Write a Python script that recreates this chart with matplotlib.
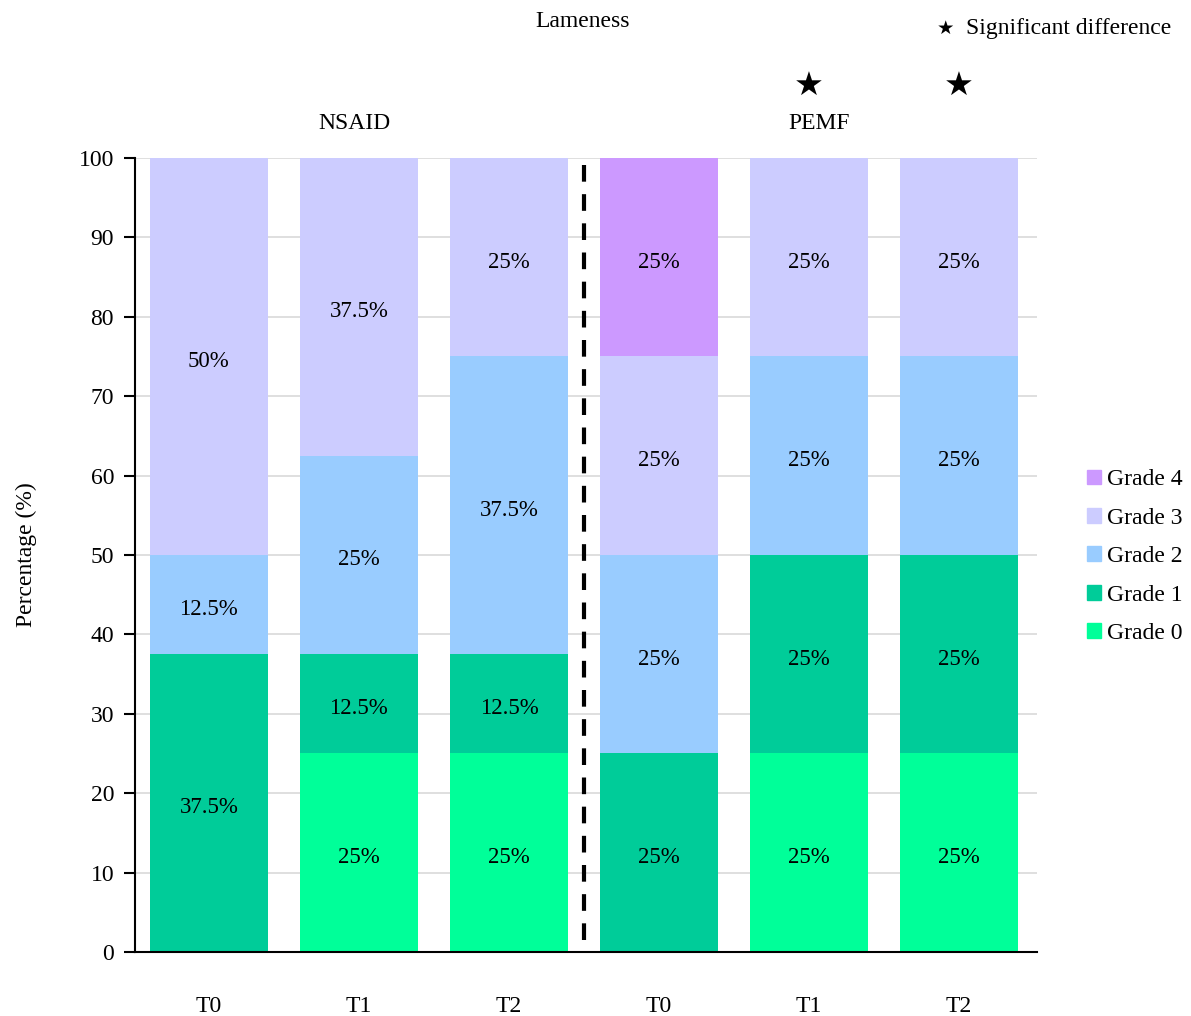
import numpy as np
import matplotlib.pyplot as plt
from matplotlib.patches import Patch

plt.rcParams['font.family'] = ['Liberation Serif', 'DejaVu Serif']

times = ['T0', 'T1', 'T2', 'T0', 'T1', 'T2']
groups = ['NSAID', 'PEMF']
grades = ['Grade 0', 'Grade 1', 'Grade 2', 'Grade 3', 'Grade 4']
colors = ['#00FF99', '#00CC99', '#99CCFF', '#CCCCFF', '#CC99FF']

# percentage per grade, one value per bar (NSAID T0-T2, PEMF T0-T2)
grade0 = [0, 25, 25, 0, 25, 25]
grade1 = [37.5, 12.5, 12.5, 25, 25, 25]
grade2 = [12.5, 25, 37.5, 25, 25, 25]
grade3 = [50, 37.5, 25, 25, 25, 25]
grade4 = [0, 0, 0, 25, 0, 0]
significant = [False, False, False, False, True, True]

fig = plt.figure(figsize=(11.91, 10.16), dpi=100)
ax = fig.add_axes([0.1133, 0.0630, 0.7574, 0.7815])

x = np.arange(len(times))
bottom = np.zeros(len(times))
for vals, c in zip([grade0, grade1, grade2, grade3, grade4], colors):
    vals = np.array(vals, dtype=float)
    ax.bar(x, vals, width=0.79, bottom=bottom, color=c, zorder=2)
    for xi, b, v in zip(x, bottom, vals):
        if v > 0:
            ax.text(xi, b + v / 2 - 0.6, f'{v:g}%', ha='center', va='center',
                    fontsize=16.5, zorder=3)
    bottom += vals

ax.set_xlim(-0.493, 5.52)
ax.set_ylim(0, 100)
ax.set_yticks(range(0, 101, 10))
ax.yaxis.grid(True, color='#d9d9d9', linewidth=1.2, zorder=0)
ax.set_axisbelow(True)
ax.tick_params(axis='y', labelsize=17, length=8, width=1.5, direction='out',
               pad=7)
ax.set_xticks(x)
ax.set_xticklabels(times, fontsize=17)
ax.tick_params(axis='x', length=0, pad=32)
for s in ['top', 'right']:
    ax.spines[s].set_visible(False)
ax.spines['left'].set_linewidth(1.5)
ax.spines['bottom'].set_linewidth(1.5)
ax.set_ylabel('Percentage (%)', fontsize=17, labelpad=30)

# separator between treatment groups
ax.plot([2.5, 2.5], [1.5, 100], color='black', linestyle=(0, (4, 3)),
        linewidth=3, zorder=4, clip_on=False)

ax.text(0.97, 1.043, groups[0], transform=ax.get_xaxis_transform(),
        ha='center', va='center', fontsize=17)
ax.text(4.07, 1.043, groups[1], transform=ax.get_xaxis_transform(),
        ha='center', va='center', fontsize=17)
for xi, sig in zip(x, significant):
    if sig:
        ax.text(xi, 1.09, '★', transform=ax.get_xaxis_transform(),
                ha='center', va='center', fontsize=24, family='DejaVu Sans')

fig.text(0.489, 0.979, 'Lameness', ha='center', va='center', fontsize=17)
fig.text(0.794, 0.972, '★', ha='center', va='center', fontsize=14,
         family='DejaVu Sans')
fig.text(0.811, 0.972, 'Significant difference', ha='left', va='center',
         fontsize=17)

handles = [Patch(color=c, label=g) for g, c in zip(grades, colors)][::-1]
fig.legend(handles=handles, loc='center left', bbox_to_anchor=(0.903, 0.452),
           frameon=False, fontsize=17, handlelength=0.6, handleheight=0.6,
           handletextpad=0.25, labelspacing=0.74, borderpad=0)

fig.savefig('out.png', dpi=100)
